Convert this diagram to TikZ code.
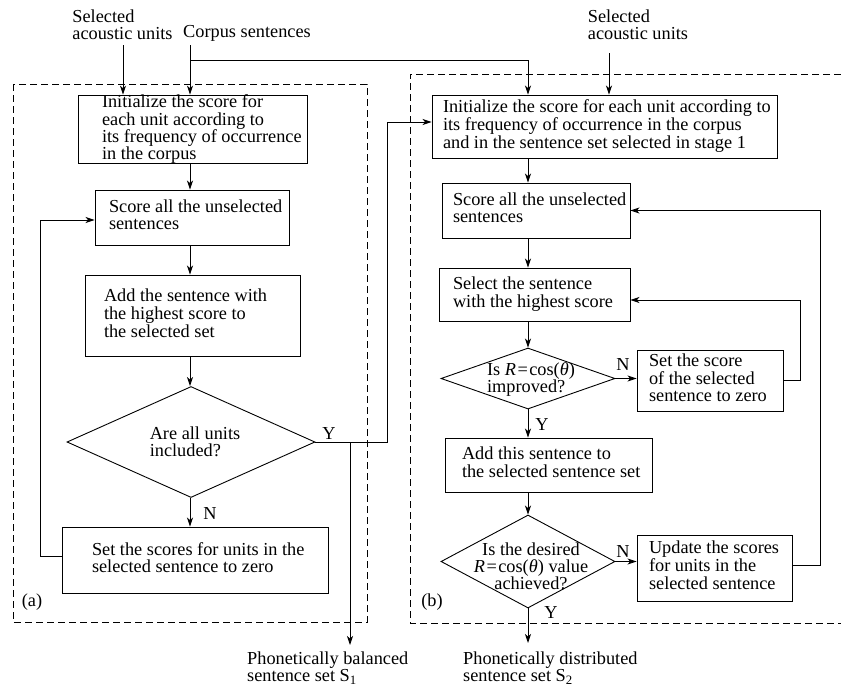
\documentclass[tikz,border=0pt]{standalone}
\usepackage{fontspec}
\setmainfont{Liberation Serif}
\usetikzlibrary{arrows.meta,shapes.geometric,calc}
\newcommand{\bxt}[3]{\makebox[#1pt][l]{\hspace*{#2pt}\begin{tabular}{@{}l@{}}#3\end{tabular}}}
\begin{document}
\begin{tikzpicture}[x=1pt,y=-1pt,
  every node/.style={font=\fontsize{18.3}{17}\selectfont},
  box/.style={draw, rectangle, inner sep=0pt, line width=0.9pt},
  dia/.style={draw, diamond, inner sep=0pt, line width=0.9pt},
  lbl/.style={inner sep=0pt, align=left},
  arr/.style={-{Stealth[length=9pt,width=6pt,inset=2.5pt]}, line width=0.9pt},
  ln/.style={line width=0.9pt},
  frame/.style={dash pattern=on 7pt off 4pt, line width=0.8pt}]
\useasboundingbox (0,0) rectangle (841,686);

% frames
\draw[frame] (13,84) rectangle (367,622);
\draw[frame] (841,74) -- (410,74) -- (410,623) -- (841,623);

% left column
\node[box, minimum height=61pt] (L1) at (192.5,129.5)
  {\fontsize{18.3}{14.7}\selectfont\bxt{229}{24}{Initialize the score for\\each unit according to\\its frequency of occurrence\\in the corpus}};
\node[box, minimum height=55pt] (L2) at (192,217.5)
  {\bxt{194}{14}{Score all the unselected\\sentences}};
\node[box, minimum height=81pt] (L3) at (192.5,315.5)
  {\bxt{215}{19}{Add the sentence with\\the highest score to\\the selected set}};
\node[dia, minimum width=248pt, minimum height=111pt] (D1) at (191,442) {};
\node[lbl] (D1t) at (195,442) {Are all units\\included?};
\node[box, minimum height=66pt] (L4) at (195,560)
  {\bxt{266}{30}{Set the scores for units in the\\selected sentence to zero}};

% right column
\node[box, minimum height=63pt] (R1) at (604.5,126.5)
  {\fontsize{18.3}{16.5}\selectfont\bxt{345}{11}{Initialize the score for each unit according to\\its frequency of occurrence in the corpus\\and in the sentence set selected in stage 1}};
\node[box, minimum height=55pt] (R2) at (536,210.5)
  {\bxt{188}{11}{Score all the unselected\\sentences}};
\node[box, minimum height=53pt] (R3) at (534.5,294.5)
  {\bxt{191}{14}{Select the sentence\\with the highest score}};
\node[dia, minimum width=174pt, minimum height=61pt] (D2) at (528,378.5) {};
\node[lbl] (D2t) at (531,380) {Is \textit{R}\hspace{1.5pt}=\hspace{1.5pt}cos(\textit{θ})\\improved?};
\node[box, minimum height=61pt] (RS) at (710,380.5)
  {\bxt{146}{12}{Set the score\\of the selected\\sentence to zero}};
\node[box, minimum height=54pt] (R4) at (548.5,465)
  {\bxt{207}{17}{Add this sentence to\\the selected sentence set}};
\node[dia, minimum width=174pt, minimum height=93pt] (D3) at (528,561.5) {};
\node[inner sep=0pt, align=center] (D3t) at (531,566) {Is the desired\\\textit{R}\hspace{1.5pt}=\hspace{1.5pt}cos(\textit{θ}) value\\achieved?};
\node[box, minimum height=66pt] (RU) at (714.5,568)
  {\bxt{155}{12}{Update the scores\\for units in the\\selected sentence}};

% input / output texts
\node[lbl] (sa1) at (122.5,25) {Selected\\acoustic units};
\node[lbl] (cs) at (247,33) {Corpus sentences};
\node[lbl] (sa2) at (638,25) {Selected\\acoustic units};
\node[lbl, anchor=north west] (out1) at (247,652) {Phonetically balanced\\sentence set S\textsubscript{1}};
\node[lbl, anchor=north west] (out2) at (463,652) {Phonetically distributed\\sentence set S\textsubscript{2}};
\node[lbl] (la) at (32,602) {(a)};
\node[lbl] (lb) at (432,602) {(b)};

% Y/N labels
\node[lbl] (Y1) at (329,434) {Y};
\node[lbl] (N1) at (210,514) {N};
\node[lbl] (N2) at (623,365) {N};
\node[lbl] (Y2) at (542,425) {Y};
\node[lbl] (N3) at (623,551) {N};
\node[lbl] (Y3) at (551,612) {Y};

% coordinates
\coordinate (lc) at (190,0);
\coordinate (rc) at (528,0);
\coordinate (sa1s) at (123,45);
\coordinate (css) at (190,45);
\coordinate (csb) at (190,60);
\coordinate (csc) at (528,60);
\coordinate (sa2s) at (609,53);
\coordinate (br) at (350,442);
\coordinate (s1e) at (350,645);
\coordinate (s2e) at (528,643);

% left connectors
\draw[arr] (sa1s) -- (sa1s |- L1.north);
\draw[arr] (css) -- (css |- L1.north);
\draw[ln] (csb) -- (csc);
\draw[arr] (csc) -- (csc |- R1.north);
\draw[arr] (sa2s) -- (sa2s |- R1.north);
\draw[arr] (L1.south -| lc) -- (L2.north -| lc);
\draw[arr] (L2.south -| lc) -- (L3.north -| lc);
\draw[arr] (L3.south -| lc) -- (D1.north -| lc);
\draw[arr] (D1.south -| lc) -- (L4.north -| lc);
\draw[arr] ($(L4.west)+(0,-4)$) -- ++(-21,0) |- ($(L2.west)+(0,2.5)$);
\draw[arr] (D1.east) -- ++(72,0) |- ($(R1.west)+(0,-4.5)$);
\draw[arr] (br) -- (s1e);

% right connectors
\draw[arr] (R1.south -| rc) -- (R2.north -| rc);
\draw[arr] (R2.south -| rc) -- (R3.north -| rc);
\draw[arr] (R3.south -| rc) -- (D2.north);
\draw[arr] (D2.east) -- (D2.east -| RS.west);
\draw[arr] (RS.east) -- ++(17,0) |- ($(R3.east)+(0,5.5)$);
\draw[arr] (D2.south) -- (R4.north -| rc);
\draw[arr] (R4.south -| rc) -- (D3.north);
\draw[arr] (D3.east) -- (D3.east -| RU.west);
\draw[arr] ($(RU.east)+(0,-3)$) -- ++(28,0) |- (R2.east);
\draw[arr] (D3.south) -- (s2e);
\end{tikzpicture}
\end{document}
